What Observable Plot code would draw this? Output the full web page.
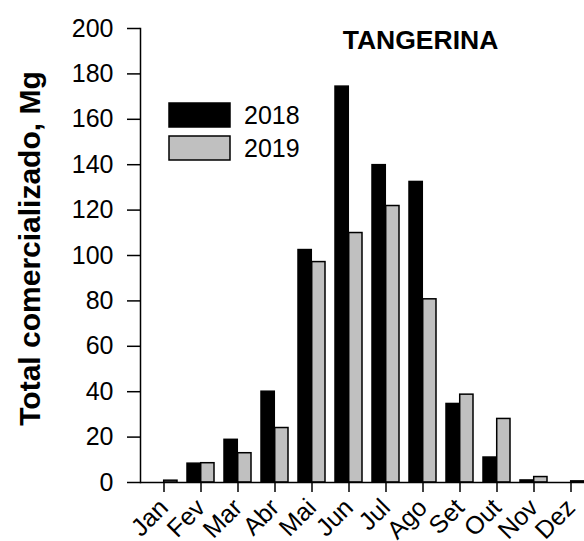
<!DOCTYPE html>
<html><head><meta charset="utf-8">
<script src="https://cdn.jsdelivr.net/npm/d3@7"></script>
<script src="https://cdn.jsdelivr.net/npm/@observablehq/plot@0.6"></script>
<style>
html,body{margin:0;padding:0;overflow:hidden;background:#fff}
#wrap{position:relative;width:584px;height:541px;overflow:hidden}
#wrap > svg{max-width:none !important;display:block}
#legend{position:absolute;left:169px;top:103px}
.lg-swatches{font-family:"Liberation Sans",Arial,sans-serif;font-size:25px;color:#000;margin:0}
.lg-swatch{line-height:24px;padding-bottom:9.4px}
.lg-swatch > svg{margin-right:14px}
.lg-swatch rect{stroke:#000;stroke-width:1.5px}
</style></head><body><div id="wrap"><div id="legend"></div></div>
<script>
const months = ["Jan","Fev","Mar","Abr","Mai","Jun","Jul","Ago","Set","Out","Nov","Dez"];
const years = ["2018","2019"];
const v2018 = [0, 8.3, 18.8, 40.0, 102.4, 174.4, 139.8, 132.4, 34.6, 11.0, 0.9, 0];
const v2019 = [0.8, 8.5, 12.9, 24.0, 97.1, 109.9, 121.8, 80.7, 38.7, 28.0, 2.4, 0.5];
const yTicks = [0, 20, 40, 60, 80, 100, 120, 140, 160, 180, 200];
const title = "TANGERINA";
const yLabel = "Total comercializado, Mg";
const colors = ["#000000", "#c0c0c0"];

const data2018 = months.map((m, i) => ({month: m, year: years[0], value: v2018[i]}));
const data2019 = months.map((m, i) => ({month: m, year: years[1], value: v2019[i]}));

const W = 594, ML = 140, MR = 0, PAD = 0.275;
const step = (W - ML - MR) / months.length;
const half = step * (1 - PAD) / 2;
const font = "Liberation Sans, Arial, sans-serif";

const plot = Plot.plot({
  width: W, height: 541,
  marginLeft: ML, marginRight: MR, marginTop: 28, marginBottom: 59,
  style: {fontFamily: font, fontSize: "25px", color: "#000", background: "#fff", overflow: "visible", maxWidth: "none"},
  x: {domain: months, paddingInner: PAD, paddingOuter: PAD / 2, align: 0.5},
  y: {domain: [0, 200]},
  color: {domain: years, range: colors},
  marks: [
    Plot.barY(data2018, {x: "month", y: "value", fill: "year", stroke: "#000", strokeWidth: 1.5, insetRight: half}),
    Plot.barY(data2019, {x: "month", y: "value", fill: "year", stroke: "#000", strokeWidth: 1.5, insetLeft: half}),
    Plot.axisY({ticks: yTicks, tickSize: 13, tickPadding: 14, strokeWidth: 1.5, fontSize: 25, label: null}),
    Plot.axisX({tickSize: 10, tickRotate: -45, tickPadding: 11, strokeWidth: 1.5, fontSize: 25, label: null}),
    Plot.frame({anchor: "left", strokeWidth: 1.5}),
    Plot.ruleY([0], {strokeWidth: 1.5}),
    Plot.text([title], {frameAnchor: "top", dx: 53, dy: 2, lineAnchor: "top", fontWeight: "bold", fontSize: 26.5}),
    Plot.text([yLabel], {frameAnchor: "left", textAnchor: "middle", rotate: -90, dx: -110, dy: -7, fontWeight: "bold", fontSize: 30})
  ]
});
document.getElementById("wrap").prepend(plot);

const leg = Plot.legend({
  color: {domain: years, range: colors},
  legend: "swatches", columns: 1, swatchWidth: 61, swatchHeight: 24, className: "lg"
});
document.getElementById("legend").appendChild(leg);
</script>
</body></html>
